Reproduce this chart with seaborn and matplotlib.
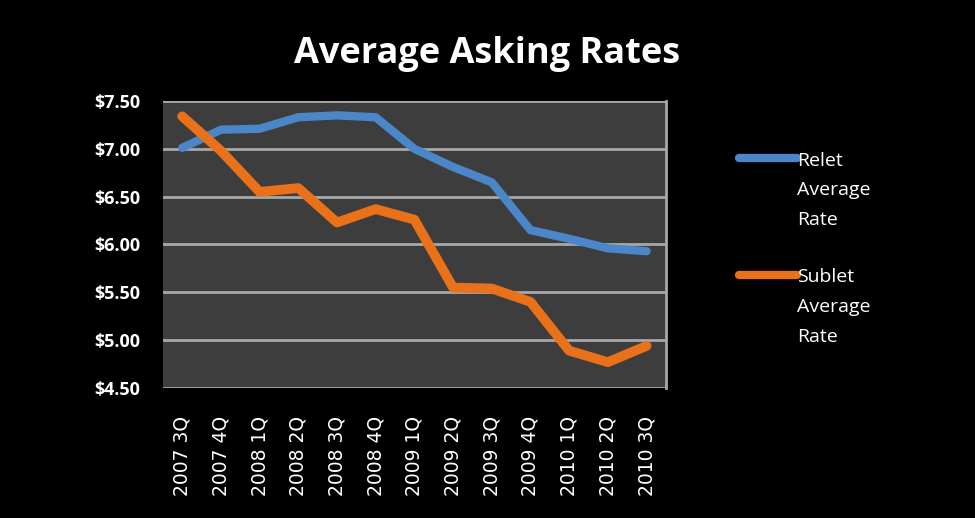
import matplotlib

matplotlib.use("Agg")
import matplotlib.pyplot as plt
import pandas as pd
import seaborn as sns

quarters = [
    "2007 3Q", "2007 4Q", "2008 1Q", "2008 2Q", "2008 3Q", "2008 4Q", "2009 1Q",
    "2009 2Q", "2009 3Q", "2009 4Q", "2010 1Q", "2010 2Q", "2010 3Q",
]
relet = [7.01, 7.20, 7.21, 7.33, 7.35, 7.33, 7.00, 6.81, 6.65, 6.15, 6.06, 5.96, 5.93]
sublet = [7.34, 6.98, 6.55, 6.59, 6.23, 6.37, 6.26, 5.55, 5.54, 5.40, 4.89, 4.77, 4.94]
series_names = ["Relet\nAverage\nRate", "Sublet\nAverage\nRate"]
y_ticks = [4.5, 5.0, 5.5, 6.0, 6.5, 7.0, 7.5]

df = pd.DataFrame({
    "quarter": quarters * 2,
    "rate": relet + sublet,
    "series": [series_names[0]] * len(quarters) + [series_names[1]] * len(quarters),
})

sns.set_theme(style="dark")
plt.rcParams["font.family"] = ["Open Sans", "DejaVu Sans"]

fig = plt.figure(figsize=(9.75, 5.18), dpi=100, facecolor="black")
ax = fig.add_axes([0.167, 0.251, 0.516, 0.554])
ax.set_facecolor("#3d3d3d")

sns.lineplot(
    data=df, x="quarter", y="rate", hue="series",
    palette=["#4a86c8", "#e8711a"], linewidth=6, ax=ax, sort=False,
)
ax.lines[1].set_linewidth(7)
for line in ax.lines:
    line.set_solid_capstyle("round")
    line.set_solid_joinstyle("round")

ax.set_xlim(-0.5, len(quarters) - 0.5)
ax.set_ylim(4.5, 7.5)
ax.set_yticks(y_ticks)
ax.set_yticklabels([f"${v:.2f}" for v in y_ticks], color="white",
                   fontsize=13, fontweight="bold")
ax.set_xticks(range(len(quarters)))
ax.set_xticklabels(quarters, rotation=90, color="white", fontsize=13.5,
                   family="DejaVu Sans")
ax.tick_params(axis="y", length=0, pad=16)
ax.tick_params(axis="x", length=0, pad=20)
ax.grid(axis="y", color="#a8a8a8", linewidth=2)
ax.grid(axis="x", visible=False)
ax.set_axisbelow(True)
for side in ["top", "left", "bottom"]:
    ax.spines[side].set_visible(False)
ax.spines["right"].set_color("#a8a8a8")
ax.spines["right"].set_linewidth(2)
ax.set_xlabel("")
ax.set_ylabel("")

leg = ax.legend(
    loc="upper left", bbox_to_anchor=(1.11, 0.885), frameon=False,
    handlelength=3.0, handletextpad=0.0, labelspacing=2.0, fontsize=14,
)
for t in leg.get_texts():
    t.set_color("white")
    t.set_linespacing(1.85)
for h in leg.get_lines():
    h.set_linewidth(6)
    h.set_solid_capstyle("round")
# keep each legend line level with the first line of its label
for col in leg._legend_handle_box.get_children():
    for row in col.get_children():
        row.align = "top"

fig.suptitle("Average Asking Rates", color="white", fontsize=26,
             fontweight="bold", x=0.5, y=0.93)

fig.savefig("out.png", dpi=100, facecolor="black")
